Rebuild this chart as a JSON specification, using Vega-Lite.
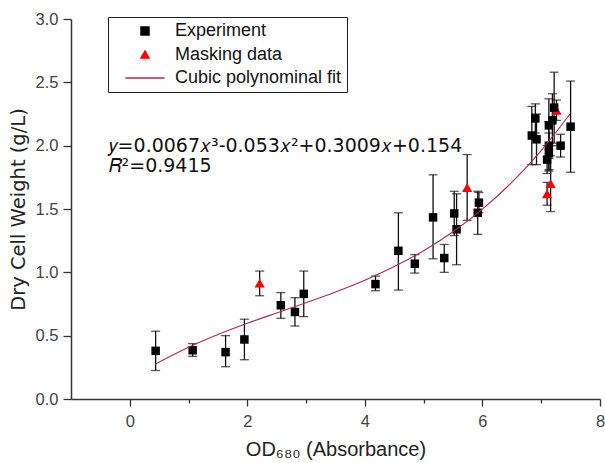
{
  "$schema": "https://vega.github.io/schema/vega-lite/v6.json",
  "width": 529,
  "height": 380,
  "autosize": {"type": "none"},
  "padding": {"left": 71, "top": 19, "right": 5, "bottom": 64},
  "background": "white",
  "config": {"view": {"stroke": null}, "font": "Liberation Sans"},
  "datasets": {
    "obs": [
      {"series": "Experiment", "od": 0.44, "dcw": 0.38, "lo": 0.225, "hi": 0.535},
      {"series": "Experiment", "od": 1.07, "dcw": 0.385, "lo": 0.337, "hi": 0.437},
      {"series": "Experiment", "od": 1.63, "dcw": 0.37, "lo": 0.255, "hi": 0.5},
      {"series": "Experiment", "od": 1.95, "dcw": 0.47, "lo": 0.31, "hi": 0.63},
      {"series": "Experiment", "od": 2.57, "dcw": 0.74, "lo": 0.637, "hi": 0.84},
      {"series": "Experiment", "od": 2.81, "dcw": 0.687, "lo": 0.576, "hi": 0.8},
      {"series": "Experiment", "od": 2.96, "dcw": 0.83, "lo": 0.65, "hi": 1.01},
      {"series": "Experiment", "od": 4.18, "dcw": 0.907, "lo": 0.855, "hi": 0.97},
      {"series": "Experiment", "od": 4.57, "dcw": 1.17, "lo": 0.86, "hi": 1.47},
      {"series": "Experiment", "od": 4.85, "dcw": 1.068, "lo": 0.994, "hi": 1.14},
      {"series": "Experiment", "od": 5.16, "dcw": 1.434, "lo": 1.107, "hi": 1.77},
      {"series": "Experiment", "od": 5.35, "dcw": 1.113, "lo": 1.0, "hi": 1.22},
      {"series": "Experiment", "od": 5.52, "dcw": 1.465, "lo": 1.29, "hi": 1.64},
      {"series": "Experiment", "od": 5.56, "dcw": 1.34, "lo": 1.06, "hi": 1.62},
      {"series": "Experiment", "od": 5.92, "dcw": 1.47, "lo": 1.3, "hi": 1.64},
      {"series": "Experiment", "od": 5.94, "dcw": 1.55, "lo": 1.47, "hi": 1.63},
      {"series": "Experiment", "od": 6.84, "dcw": 2.08, "lo": 1.85, "hi": 2.31},
      {"series": "Experiment", "od": 6.9, "dcw": 2.215, "lo": 2.1, "hi": 2.33},
      {"series": "Experiment", "od": 6.92, "dcw": 2.05, "lo": 1.85, "hi": 2.25},
      {"series": "Experiment", "od": 7.1, "dcw": 1.89, "lo": 1.78, "hi": 2.0},
      {"series": "Experiment", "od": 7.13, "dcw": 1.94, "lo": 1.8, "hi": 2.1},
      {"series": "Experiment", "od": 7.13, "dcw": 2.0, "lo": 1.81, "hi": 2.19},
      {"series": "Experiment", "od": 7.13, "dcw": 2.16, "lo": 1.9, "hi": 2.37},
      {"series": "Experiment", "od": 7.19, "dcw": 2.2, "lo": 2.0, "hi": 2.41},
      {"series": "Experiment", "od": 7.22, "dcw": 2.3, "lo": 2.02, "hi": 2.58},
      {"series": "Experiment", "od": 7.33, "dcw": 2.0, "lo": 1.91, "hi": 2.09},
      {"series": "Experiment", "od": 7.5, "dcw": 2.15, "lo": 1.79, "hi": 2.51},
      {"series": "Masking data", "od": 2.21, "dcw": 0.915, "lo": 0.815, "hi": 1.01},
      {"series": "Masking data", "od": 5.74, "dcw": 1.67, "lo": 1.41, "hi": 1.93},
      {"series": "Masking data", "od": 7.1, "dcw": 1.62, "lo": 1.53, "hi": 1.71},
      {"series": "Masking data", "od": 7.16, "dcw": 1.7, "lo": 1.48, "hi": 1.92},
      {"series": "Masking data", "od": 7.26, "dcw": 2.28, "lo": 2.2, "hi": 2.36}
    ],
    "fit": [
      {"series": "Cubic polynominal fit", "od": 0.44, "dcw": 0.2767},
      {"series": "Cubic polynominal fit", "od": 1.0, "dcw": 0.4086},
      {"series": "Cubic polynominal fit", "od": 1.5, "dcw": 0.5087},
      {"series": "Cubic polynominal fit", "od": 2.0, "dcw": 0.5974},
      {"series": "Cubic polynominal fit", "od": 2.5, "dcw": 0.6797},
      {"series": "Cubic polynominal fit", "od": 3.0, "dcw": 0.7606},
      {"series": "Cubic polynominal fit", "od": 3.5, "dcw": 0.8452},
      {"series": "Cubic polynominal fit", "od": 4.0, "dcw": 0.9384},
      {"series": "Cubic polynominal fit", "od": 4.5, "dcw": 1.0453},
      {"series": "Cubic polynominal fit", "od": 5.0, "dcw": 1.171},
      {"series": "Cubic polynominal fit", "od": 5.5, "dcw": 1.3204},
      {"series": "Cubic polynominal fit", "od": 6.0, "dcw": 1.4986},
      {"series": "Cubic polynominal fit", "od": 6.5, "dcw": 1.7106},
      {"series": "Cubic polynominal fit", "od": 7.0, "dcw": 1.9614},
      {"series": "Cubic polynominal fit", "od": 7.49, "dcw": 2.2497}
    ],
    "notes": [
      {"eq": "𝑦=0.0067𝑥³-0.053𝑥²+0.3009𝑥+0.154", "r2": "𝑅²=0.9415"}
    ]
  },
  "layer": [
    {
      "data": {"name": "obs"},
      "mark": {"type": "rule", "color": "#111111", "strokeWidth": 1.3},
      "encoding": {
        "x": {
          "field": "od",
          "type": "quantitative",
          "scale": {"domain": [-1, 8], "nice": false, "zero": false},
          "axis": {
            "title": "OD₆₈₀  (Absorbance)",
            "values": [0, 1, 2, 3, 4, 5, 6, 7, 8],
            "labelExpr": "datum.value % 2 === 0 ? format(datum.value, 'd') : ''",
            "tickSize": {"condition": {"test": "datum.value % 2 !== 0", "value": 4}, "value": 7},
            "grid": false,
            "labelFlush": false,
            "labelOverlap": false,
            "domainColor": "#333333",
            "domainWidth": 1.5,
            "tickColor": "#333333",
            "tickWidth": 1.3,
            "labelFont": "Liberation Sans",
            "labelFontSize": 16.5,
            "labelColor": "#444444",
            "labelPadding": 7,
            "titleFont": "Liberation Sans",
            "titleFontSize": 20,
            "titleFontWeight": "normal",
            "titleColor": "#222222",
            "titlePadding": 10
          }
        },
        "y": {
          "field": "lo",
          "type": "quantitative",
          "scale": {"domain": [0, 3], "nice": false, "zero": false},
          "axis": {
            "title": "Dry Cell Weight (g/L)",
            "values": [0, 0.25, 0.5, 0.75, 1, 1.25, 1.5, 1.75, 2, 2.25, 2.5, 2.75, 3],
            "labelExpr": "(datum.value * 2) % 1 === 0 ? format(datum.value, '.1f') : ''",
            "tickSize": {"condition": {"test": "(datum.value * 2) % 1 !== 0", "value": 4}, "value": 8},
            "grid": false,
            "labelOverlap": false,
            "domainColor": "#333333",
            "domainWidth": 1.5,
            "tickColor": "#333333",
            "tickWidth": 1.3,
            "labelFont": "Liberation Sans",
            "labelFontSize": 16.5,
            "labelColor": "#444444",
            "labelPadding": 5,
            "titleFont": "DejaVu Sans",
            "titleFontSize": 19.5,
            "titleFontWeight": "normal",
            "titleColor": "#222222",
            "titlePadding": 7
          }
        },
        "y2": {"field": "hi"}
      }
    },
    {
      "data": {"name": "obs"},
      "mark": {"type": "tick", "orient": "horizontal", "color": "#111111", "thickness": 1.3, "size": 9},
      "encoding": {
        "x": {"field": "od", "type": "quantitative"},
        "y": {"field": "lo", "type": "quantitative"}
      }
    },
    {
      "data": {"name": "obs"},
      "mark": {"type": "tick", "orient": "horizontal", "color": "#111111", "thickness": 1.3, "size": 9},
      "encoding": {
        "x": {"field": "od", "type": "quantitative"},
        "y": {"field": "hi", "type": "quantitative"}
      }
    },
    {
      "data": {"name": "obs"},
      "transform": [{"filter": "datum.series === 'Masking data'"}],
      "mark": {"type": "point", "filled": true, "opacity": 1, "size": 105, "strokeWidth": 0},
      "encoding": {
        "x": {"field": "od", "type": "quantitative"},
        "y": {"field": "dcw", "type": "quantitative"},
        "color": {"field": "series", "type": "nominal"},
        "shape": {"field": "series", "type": "nominal"}
      }
    },
    {
      "data": {"name": "obs"},
      "transform": [{"filter": "datum.series === 'Experiment'"}],
      "mark": {"type": "point", "filled": true, "opacity": 1, "size": 72, "strokeWidth": 0},
      "encoding": {
        "x": {"field": "od", "type": "quantitative"},
        "y": {"field": "dcw", "type": "quantitative"},
        "color": {
          "field": "series",
          "type": "nominal",
          "scale": {
            "domain": ["Experiment", "Masking data", "Cubic polynominal fit"],
            "range": ["#000000", "#ff0000", "#b32a45"]
          },
          "legend": {
            "title": null,
            "orient": "none",
            "legendX": 37,
            "legendY": -2,
            "direction": "vertical",
            "strokeColor": "#222222",
            "fillColor": "#ffffff",
            "padding": 5,
            "rowPadding": 5.5,
            "symbolSize": 64,
            "symbolOffset": 23,
            "labelOffset": 21,
            "labelFont": "Liberation Sans",
            "labelFontSize": 18,
            "labelColor": "#111111",
            "labelLimit": 300,
            "encode": {
              "symbols": {
                "update": {
                  "stroke": {"scale": "color", "field": "value"},
                  "strokeWidth": {"value": 1.1}
                }
              }
            }
          }
        },
        "shape": {
          "field": "series",
          "type": "nominal",
          "scale": {
            "domain": ["Experiment", "Masking data", "Cubic polynominal fit"],
            "range": ["square", "triangle-up", "M-4.9,0H4.9"]
          }
        }
      }
    },
    {
      "data": {"name": "fit"},
      "mark": {"type": "line", "strokeWidth": 1.1, "interpolate": "monotone"},
      "encoding": {
        "x": {"field": "od", "type": "quantitative"},
        "y": {"field": "dcw", "type": "quantitative"},
        "color": {"field": "series", "type": "nominal"}
      }
    },
    {
      "data": {"name": "notes"},
      "mark": {"type": "text", "align": "left", "baseline": "middle", "font": "DejaVu Sans", "fontSize": 19, "color": "#111111"},
      "encoding": {
        "x": {"datum": -0.36, "type": "quantitative"},
        "y": {"datum": 2.0, "type": "quantitative"},
        "text": {"field": "eq"}
      }
    },
    {
      "data": {"name": "notes"},
      "mark": {"type": "text", "align": "left", "baseline": "middle", "font": "DejaVu Sans", "fontSize": 19, "color": "#111111"},
      "encoding": {
        "x": {"datum": -0.36, "type": "quantitative"},
        "y": {"datum": 1.84, "type": "quantitative"},
        "text": {"field": "r2"}
      }
    }
  ]
}
